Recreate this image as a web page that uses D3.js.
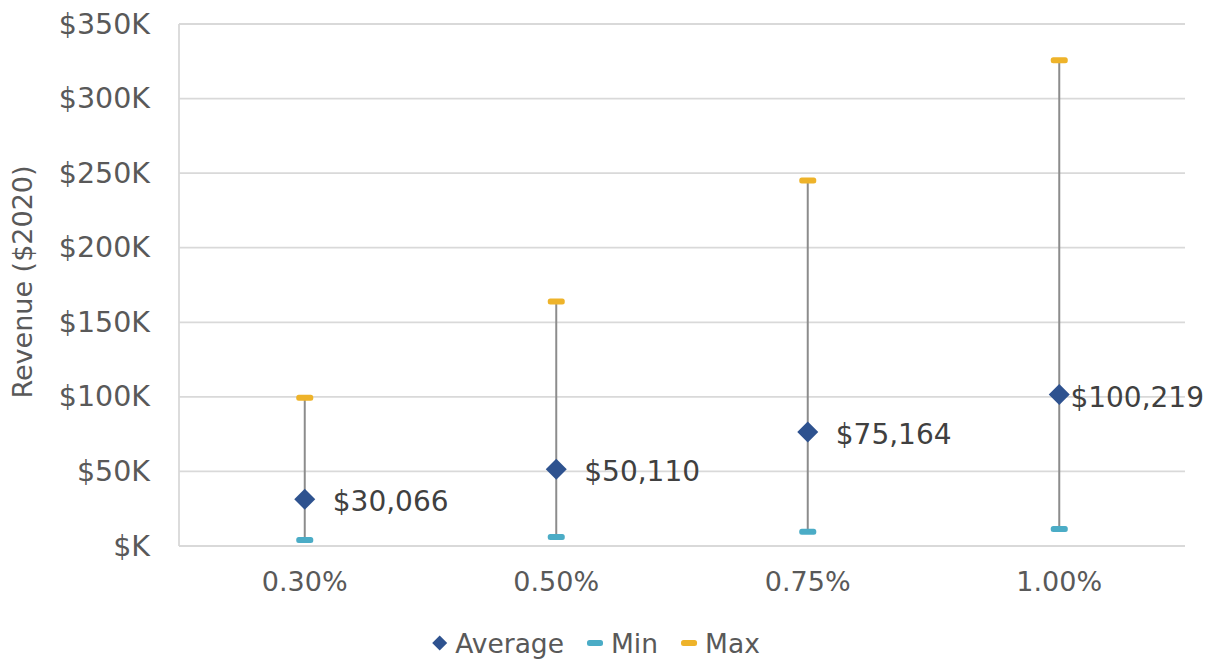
<!DOCTYPE html>
<html>
<head>
<meta charset="utf-8">
<script src="https://cdn.jsdelivr.net/npm/d3@7"></script>
<style>
  html, body { margin: 0; padding: 0; background: #ffffff; }
  svg { display: block; font-family: "DejaVu Sans", "Liberation Sans", sans-serif; }
</style>
</head>
<body>
<svg id="chart" width="1215" height="662"></svg>
<script>
// ---- data ----
const categories = ["0.30%", "0.50%", "0.75%", "1.00%"];
const averageValues = [30066, 50110, 75164, 100219];
const minValues = [4000, 6000, 9600, 11400];
const maxValues = [99400, 164000, 245000, 325700];
const yTickValues = [0, 50000, 100000, 150000, 200000, 250000, 300000, 350000];
const yTickLabels = ["$K", "$50K", "$100K", "$150K", "$200K", "$250K", "$300K", "$350K"];
const legendLabels = ["Average", "Min", "Max"];
const yAxisTitle = "Revenue ($2020)";

// ---- styles ----
const colAvg = "#2E528F", colMin = "#4BACC6", colMax = "#EEB32A";
const colErr = "#8C8C8C", colGrid = "#D9D9D9", colTick = "#595959", colLabel = "#404040";

const svg = d3.select("#chart");
const W = 1215, H = 662;
const plot = { left: 179, right: 1185, top: 24, bottom: 546 };

const x = d3.scaleBand().domain(categories).range([plot.left, plot.right]).padding(0);
const y = d3.scaleLinear().domain([0, 350000]).range([plot.bottom, plot.top]);

// gridlines
svg.append("g").selectAll("line").data(yTickValues).join("line")
  .attr("x1", plot.left).attr("x2", plot.right)
  .attr("y1", d => y(d)).attr("y2", d => y(d))
  .attr("stroke", colGrid).attr("stroke-width", 1.8);

// left axis line
svg.append("line")
  .attr("x1", plot.left).attr("x2", plot.left)
  .attr("y1", y(350000)).attr("y2", y(0))
  .attr("stroke", colGrid).attr("stroke-width", 1.8);

// y axis
const yAxis = d3.axisLeft(y).tickValues(yTickValues)
  .tickFormat((d, i) => yTickLabels[i]).tickSize(0).tickPadding(29);
const gy = svg.append("g").attr("transform", `translate(${plot.left},0)`).call(yAxis);
gy.select(".domain").remove();
gy.selectAll("text").attr("fill", colTick).style("font-size", "28.5px")
  .style("font-family", "DejaVu Sans, sans-serif");

// x axis
const xAxis = d3.axisBottom(x).tickSize(0).tickPadding(26);
const gx = svg.append("g").attr("transform", `translate(0,${plot.bottom})`).call(xAxis);
gx.select(".domain").remove();
gx.selectAll("text").attr("fill", colTick).style("font-size", "27px")
  .style("font-family", "DejaVu Sans, sans-serif");

// y axis title
svg.append("text")
  .attr("transform", `translate(32,${(162 + 402) / 2}) rotate(-90)`)
  .attr("text-anchor", "middle")
  .attr("fill", colTick).style("font-size", "27px")
  .text(yAxisTitle);

const rows = categories.map((c, i) => ({ c, avg: averageValues[i], min: minValues[i], max: maxValues[i] }));
const cx = d => x(d.c) + x.bandwidth() / 2;

// error lines
svg.append("g").selectAll("line").data(rows).join("line")
  .attr("x1", cx).attr("x2", cx)
  .attr("y1", d => y(d.max)).attr("y2", d => y(d.min))
  .attr("stroke", colErr).attr("stroke-width", 2);

// caps
const capW = 17, capH = 6;
svg.append("g").selectAll("rect").data(rows).join("rect")
  .attr("x", d => cx(d) - capW / 2).attr("y", d => y(d.min) - capH / 2)
  .attr("width", capW).attr("height", capH).attr("rx", 2.5)
  .attr("fill", colMin);
svg.append("g").selectAll("rect").data(rows).join("rect")
  .attr("x", d => cx(d) - capW / 2).attr("y", d => y(d.max) - capH / 2)
  .attr("width", capW).attr("height", capH).attr("rx", 2.5)
  .attr("fill", colMax);

// diamonds
const diamond = (r) => `M0,${-r}L${r},0L0,${r}L${-r},0Z`;
svg.append("g").selectAll("path").data(rows).join("path")
  .attr("transform", d => `translate(${cx(d)},${y(d.avg) - 2})`)
  .attr("d", diamond(10.5)).attr("fill", colAvg);

// data labels
const fmt = d3.format("$,");
svg.append("g").selectAll("text").data(rows).join("text")
  .attr("y", d => y(d.avg)).attr("dy", "0.36em")
  .attr("fill", colLabel).style("font-size", "28px")
  .text(d => fmt(d.avg))
  .each(function (d) {
    const w = this.getComputedTextLength();
    const lx = Math.min(cx(d) + 28, W - 11 - w);
    d3.select(this).attr("x", lx);
  });

// legend
const legY = 643;
const lg = svg.append("g");
const items = [
  { label: legendLabels[0], type: "diamond", color: colAvg },
  { label: legendLabels[1], type: "dash", color: colMin },
  { label: legendLabels[2], type: "dash", color: colMax }
];
let cursor = 0;
items.forEach((it) => {
  const g = lg.append("g");
  let mw;
  if (it.type === "diamond") {
    g.append("path").attr("d", diamond(7.5)).attr("transform", `translate(${cursor + 7.5},0)`).attr("fill", it.color);
    mw = 15;
  } else {
    g.append("rect").attr("x", cursor).attr("y", -3).attr("width", 16).attr("height", 6).attr("rx", 2.5).attr("fill", it.color);
    mw = 16;
  }
  const t = g.append("text").attr("x", cursor + mw + 8).attr("dy", "0.36em")
    .attr("fill", colTick).style("font-size", "26.5px").text(it.label);
  cursor += mw + 8 + t.node().getComputedTextLength() + 23;
});
const totalW = cursor - 23;
lg.attr("transform", `translate(${596 - totalW / 2},${legY})`);
</script>
</body>
</html>
